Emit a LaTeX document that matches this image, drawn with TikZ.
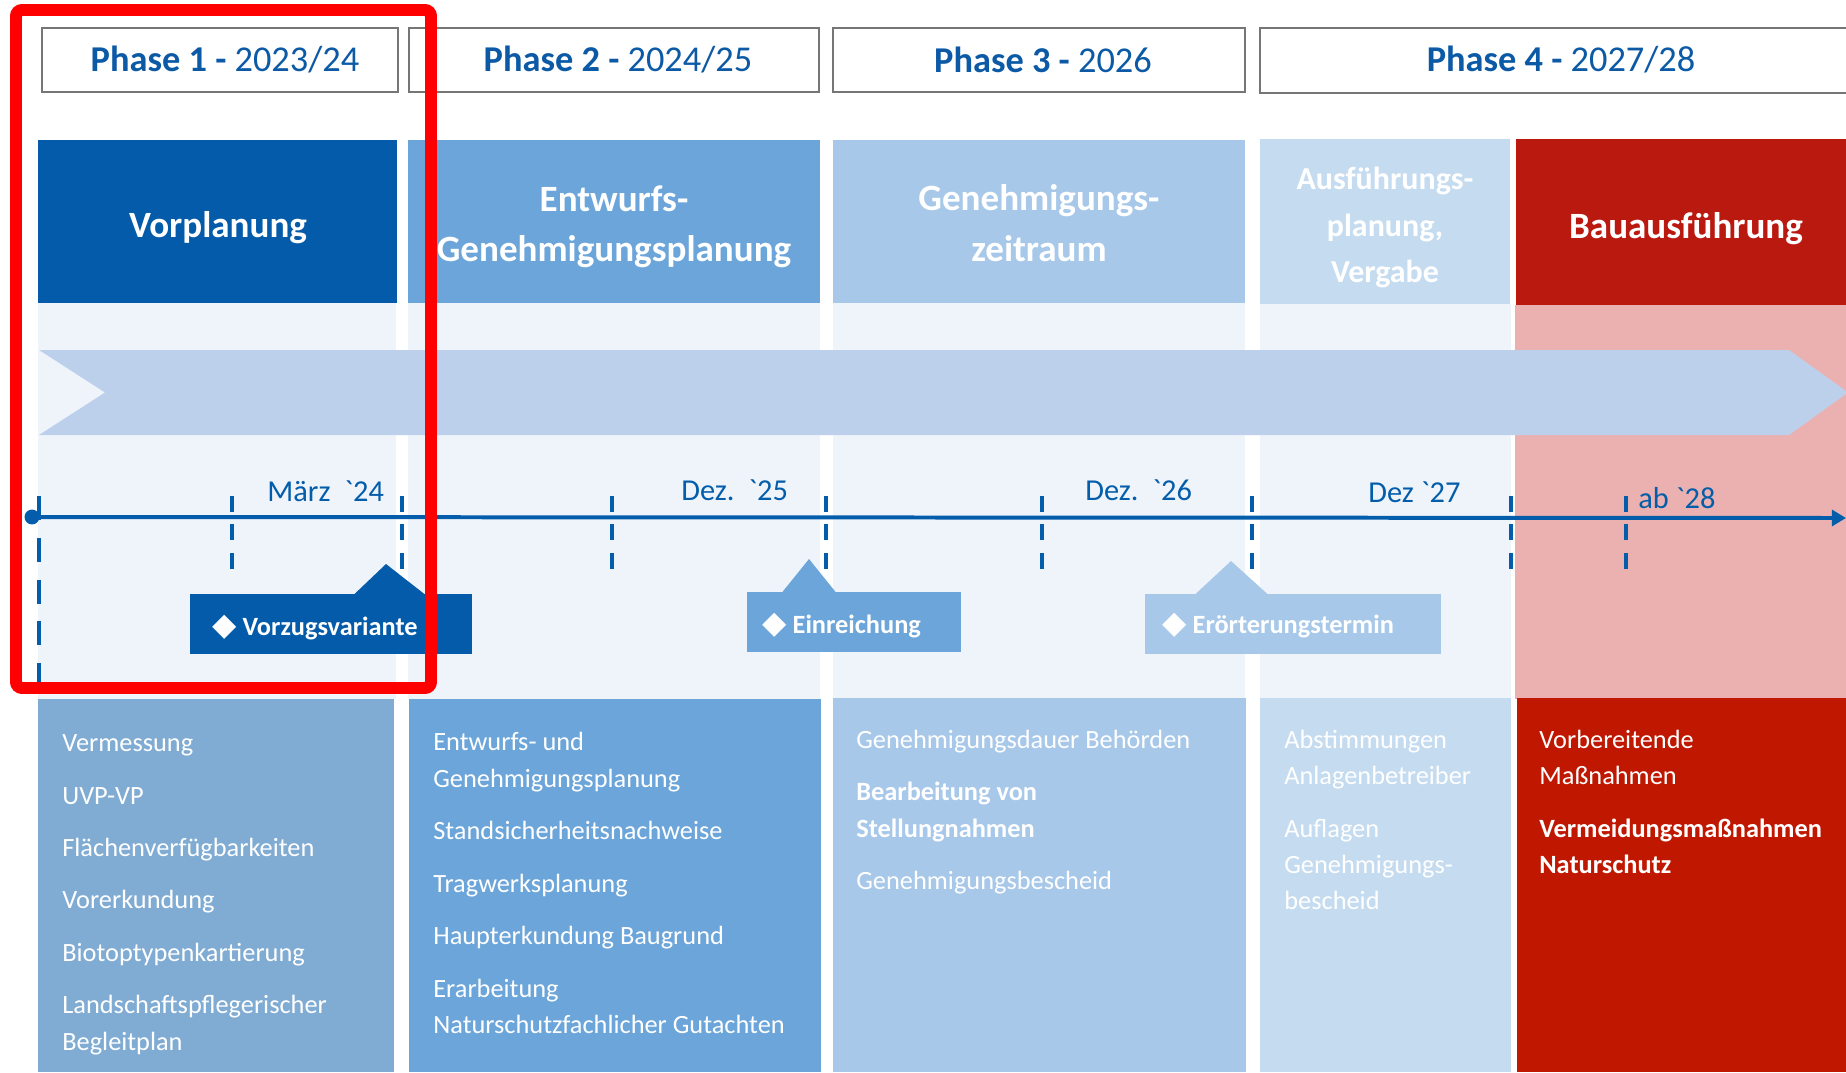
\documentclass[tikz,border=0pt]{standalone}
\usepackage{fontspec}
\setmainfont{Carlito}
\newfontfamily\gravefont{Carlito}[Ligatures=TeXOff]
\newfontfamily\symfont{DejaVu Sans}
\usetikzlibrary{arrows.meta}

\definecolor{phaseblue}{HTML}{0C5AA6}
\definecolor{darkblue}{HTML}{035BA9}
\definecolor{midblue}{HTML}{6CA5D9}
\definecolor{lightblue}{HTML}{A7C8E9}
\definecolor{paleblue}{HTML}{C5DCF0}
\definecolor{greyblue}{HTML}{80ACD4}
\definecolor{bandbg}{HTML}{EFF4FB}
\definecolor{pinkbg}{HTML}{EBB1B0}
\definecolor{chevronfill}{HTML}{BCD0EC}
\definecolor{headred}{HTML}{B9190F}
\definecolor{boxred}{HTML}{C01800}
\definecolor{lineblue}{HTML}{035DAA}
\definecolor{framegray}{HTML}{767676}
\definecolor{markred}{HTML}{FF0000}

% literal grave accent used in the year labels
\newcommand{\grv}{{\gravefont\symbol{96}}}
% filled diamond in front of the milestone names
\newcommand{\msdiamond}{{\symfont\fontsize{18pt}{18pt}\selectfont\char"25C6}}

\tikzset{
  phasebox/.style={draw=framegray, line width=0.85pt, fill=white},
  phasetxt/.style={text=phaseblue, inner sep=0pt,
    font=\fontsize{20.7pt}{24pt}\selectfont},
  headtxt/.style={text=white, inner sep=0pt, align=center,
    font=\bfseries\fontsize{21.1pt}{28.7pt}\selectfont},
  smallheadtxt/.style={text=white, inner sep=0pt, align=center,
    font=\bfseries\fontsize{18.2pt}{26.6pt}\selectfont},
  datetxt/.style={text=lineblue, inner sep=0pt, anchor=base west,
    font=\fontsize{17.3pt}{20pt}\selectfont},
  mstxt/.style={text=white, inner sep=0pt, anchor=base west,
    font=\bfseries\fontsize{15pt}{18pt}\selectfont},
  itemtxt/.style={text=white, inner sep=0pt, anchor=base west,
    font=\fontsize{15pt}{18pt}\selectfont},
  tickline/.style={draw=lineblue, line width=2.27pt, dash pattern=on 9.07pt off 7.09pt},
  longtick/.style={draw=lineblue, line width=2.27pt, dash pattern=on 13.6pt off 10.2pt},
}

\begin{document}
\begin{tikzpicture}[x=0.02cm, y=-0.02cm]
\useasboundingbox (0,0) rectangle (1846,1072);
\clip (0,0) rectangle (1846,1072);
\fill[white] (0,0) rectangle (1846,1072);

% phase headings
\draw[phasebox] (42,28) rectangle (398,92);
\draw[phasebox] (409,28) rectangle (819,92);
\draw[phasebox] (833,28) rectangle (1245,92);
\draw[phasebox] (1260,28) rectangle (1866,93);
\node[phasetxt] (ph1) at (225,60) {\textbf{Phase 1 -} 2023/24};
\node[phasetxt] (ph2) at (618,60) {\textbf{Phase 2 -} 2024/25};
\node[phasetxt] (ph3) at (1043,60) {\textbf{Phase 3 -} 2026};
\node[phasetxt] (ph4) at (1561,60) {\textbf{Phase 4 -} 2027/28};

% coloured stage headers
\fill[darkblue]   (38,140) rectangle (397,303);
\fill[midblue]    (408,140) rectangle (820,303);
\fill[lightblue]  (833,140) rectangle (1245,303);
\fill[paleblue]   (1260,139) rectangle (1510,304);
\fill[headred]    (1516,139) rectangle (1846,305);
\node[headtxt] (h1) at (218,227.5) {Vorplanung};
\node[headtxt] (h2) at (614,226.5) {Entwurfs-\\Genehmigungsplanung};
\node[headtxt] (h3) at (1039,223) {Genehmigungs-\\zeitraum};
\node[smallheadtxt] (h4) at (1385,227.5) {Ausführungs-\\planung,\\Vergabe};
\node[headtxt] (h5) at (1686,228.5) {Bauausführung};

% light column bands behind the time line
\fill[bandbg] (38,303) rectangle (396,699);
\fill[bandbg] (408,303) rectangle (820,699);
\fill[bandbg] (833,303) rectangle (1245,699);
\fill[bandbg] (1260,304) rectangle (1511,699);
\fill[pinkbg] (1515,305) rectangle (1846,699);

% big chevron
\fill[chevronfill] (39,350) -- (1789,350) -- (1848,392.5) -- (1789,435)
  -- (39,435) -- (105,392.5) -- cycle;

% time line with ticks
\foreach \x in {232,402,612,826,1042,1252,1511,1626}
  \draw[tickline] (\x,496) -- (\x,569);
\draw[longtick] (39,496) -- (39,690);
\node[circle, fill=lineblue, inner sep=0pt, minimum size=8.5pt] (tlstart) at (32,517) {};
\coordinate (tlend) at (1846,518);
\draw[lineblue, line width=2.27pt, -{Triangle[length=8pt,width=9pt]}]
  (tlstart.center) -- (tlend);

\node[datetxt] (d1) at (267,501) {März~~\grv24};
\node[datetxt] (d2) at (681,500) {Dez.~~\grv25};
\node[datetxt] (d3) at (1085,500) {Dez.~~\grv26};
\node[datetxt] (d4) at (1368,502) {Dez \grv27};
\node[datetxt] (d5) at (1638,508) {ab \grv28};

% milestone callouts
\fill[darkblue] (190,594) rectangle (472,654);
\fill[darkblue] (354,594.5) -- (386,564) -- (425,594.5) -- cycle;
\node[mstxt] (m1) at (212,635) {\msdiamond\ Vorzugsvariante};

\fill[midblue] (747,592) rectangle (961,652);
\fill[midblue] (782,592.5) -- (809,559) -- (836,592.5) -- cycle;
\node[mstxt] (m2) at (762,633) {\msdiamond\ Einreichung};

\fill[lightblue] (1145,594) rectangle (1441,654);
\fill[lightblue] (1195,594.5) -- (1231,561) -- (1268,594.5) -- cycle;
\node[mstxt] (m3) at (1162,633) {\msdiamond\ Erörterungstermin};

% task lists
\fill[greyblue]  (38,699) rectangle (394,1072);
\fill[midblue]   (409,699) rectangle (821,1072);
\fill[lightblue] (833,698) rectangle (1246,1072);
\fill[paleblue]  (1260,698) rectangle (1511,1072);
\fill[boxred]    (1517,698) rectangle (1846,1072);

\foreach \t/\y [count=\i] in {Vermessung/751, UVP-VP/804,
    Flächenverfügbarkeiten/856, Vorerkundung/908, Biotoptypenkartierung/961,
    Landschaftspflegerischer/1013, Begleitplan/1050}
  \node[itemtxt] (a\i) at (62,\y) {\t};
\foreach \t/\y [count=\i] in {Entwurfs- und/750, Genehmigungsplanung/787,
    Standsicherheitsnachweise/839, Tragwerksplanung/892,
    Haupterkundung Baugrund/944, Erarbeitung/997,
    Naturschutzfachlicher Gutachten/1033}
  \node[itemtxt] (b\i) at (433,\y) {\t};
\foreach \t/\y [count=\i] in {Genehmigungsdauer Behörden/748,
    \bfseries Bearbeitung von/800, \bfseries Stellungnahmen/837,
    Genehmigungsbescheid/889}
  \node[itemtxt] (c\i) at (856,\y) {\t};
\foreach \t/\y [count=\i] in {Abstimmungen/748, Anlagenbetreiber/784,
    Auflagen/837, Genehmigungs-/873, bescheid/909}
  \node[itemtxt] (e\i) at (1284,\y) {\t};
\foreach \t/\y [count=\i] in {Vorbereitende/748, Maßnahmen/784,
    \bfseries Vermeidungsmaßnahmen/837, \bfseries Naturschutz/873}
  \node[itemtxt] (f\i) at (1539,\y) {\t};

% highlight frame around phase 1
\draw[markred, line width=6.8pt, rounded corners=3.5pt] (16,10) rectangle (431,688);
\end{tikzpicture}
\end{document}
